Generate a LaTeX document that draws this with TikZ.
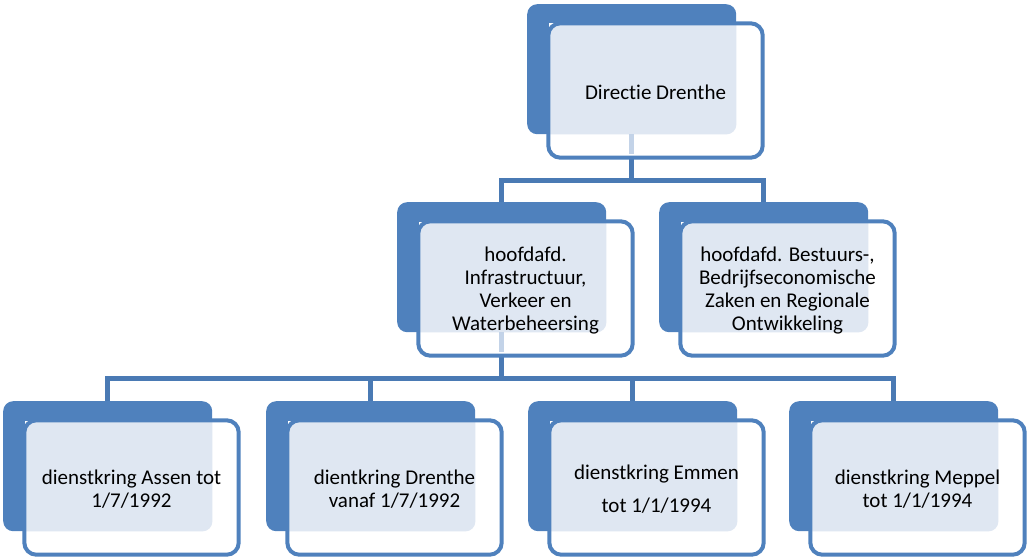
\documentclass[tikz,border=0pt]{standalone}
\usepackage{fontspec}
\setmainfont{Carlito}[Ligatures={NoCommon,NoRare}]
\usetikzlibrary{calc}
\definecolor{boxblue}{HTML}{4F81BD}
\definecolor{connblue}{HTML}{4A7AB4}
\definecolor{patblue}{HTML}{DFE7F2}
\definecolor{stubblue}{HTML}{C3D3E8}
\pgfdeclarelayer{bg}
\pgfsetlayers{bg,main}
\tikzset{
 backbox/.style={rectangle, fill=boxblue, rounded corners=10pt, minimum width=209pt, minimum height=130pt, inner sep=0pt, anchor=north west},
 frontbox/.style={rectangle, fill=white, minimum width=214pt, minimum height=134pt, inner sep=0pt},
 frontline/.style={draw=boxblue, line width=4pt, rounded corners=12pt},
 patfill/.style={fill=patblue, rounded corners=10pt},
 conn/.style={draw=connblue, line width=5pt},
 stubline/.style={draw=stubblue, line width=5pt},
 lbl/.style={align=center, font=\fontsize{21}{23}\selectfont, text=black, inner sep=0pt},
}
\newcommand\orgunit[4]{%
 \node[backbox] (#1B) at (#2,#3) {};
 \node[frontbox] (#1F) at ($(#1B.north west)+(128.5,86.5)$) {};
 \begin{scope}
  \clip[rounded corners=12pt] (#1F.south west) rectangle (#1F.north east);
  \fill[patfill] (#1B.south west) rectangle (#1B.north east);
 \end{scope}
}
\newcommand\orgborder[2]{%
 \draw[frontline] (#1F.south west) rectangle (#1F.north east);
 \node[lbl] (#1T) at ($(#1F.center)+(0,2)$) {#2};
}
\begin{document}
\begin{tikzpicture}[x=1pt,y=-1pt]
\useasboundingbox (0,0) rectangle (1027,559);
\orgunit{top}{527}{4}{}
\orgunit{ml}{397}{202}{}
\orgunit{mr}{659}{202}{}
\orgunit{ba}{3}{401}{}
\orgunit{bb}{266}{401}{}
\orgunit{bc}{528}{401}{}
\orgunit{bd}{789}{401}{}
% stubs of connectors seen through the front boxes
\draw[stubline] (topB.south) -- ($(topB.south |- topF.south)+(0,-4)$);
\draw[stubline] (mlB.south) -- ($(mlB.south |- mlF.south)+(0,-4)$);
\orgborder{top}{Directie Drenthe}
\orgborder{ml}{hoofdafd.\\Infrastructuur,\\Verkeer en\\Waterbeheersing}
\orgborder{mr}{hoofdafd. Bestuurs-,\\Bedrijfseconomische\\Zaken en Regionale\\Ontwikkeling}
\orgborder{ba}{dienstkring Assen tot\\1/7/1992}
\orgborder{bb}{dientkring Drenthe\\vanaf 1/7/1992}
\orgborder{bc}{dienstkring Emmen\\[10pt]tot 1/1/1994}
\orgborder{bd}{dienstkring Meppel\\tot 1/1/1994}
\coordinate (busone) at (0,180);
\coordinate (bustwo) at (0,378);
\begin{pgfonlayer}{bg}
 \draw[conn] (topB.south) -- (topB.south |- busone) -| (mlB.north);
 \draw[conn] (topB.south |- busone) -| (mrB.north);
 \draw[conn] (mlB.south) -- (mlB.south |- bustwo) -| (baB.north);
 \draw[conn] (mlB.south |- bustwo) -| (bbB.north);
 \draw[conn] (mlB.south |- bustwo) -| (bcB.north);
 \draw[conn] (mlB.south |- bustwo) -| (bdB.north);
\end{pgfonlayer}
\end{tikzpicture}
\end{document}
